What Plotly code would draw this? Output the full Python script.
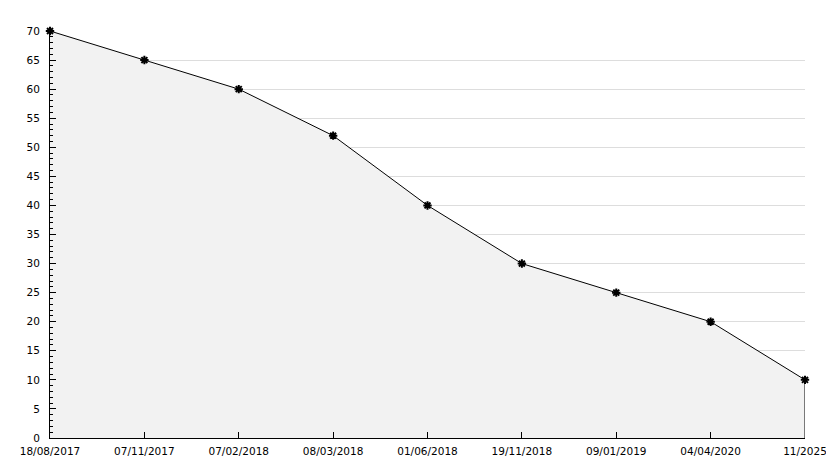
import plotly.graph_objects as go

dates = ["18/08/2017", "07/11/2017", "07/02/2018", "08/03/2018", "01/06/2018",
         "19/11/2018", "09/01/2019", "04/04/2020", "11/2025"]
values = [70, 65, 60, 52, 40, 30, 25, 20, 10]

fig = go.Figure()
fig.add_trace(go.Scatter(
    x=dates, y=values,
    mode="lines+markers",
    fill="tozeroy",
    fillcolor="#f2f2f2",
    line=dict(color="black", width=1),
    marker=dict(symbol="asterisk-open", size=7, color="black",
                line=dict(color="black", width=2)),
    cliponaxis=False,
    hoverinfo="x+y",
))
# closing edge of the filled area at the last date
fig.add_trace(go.Scatter(
    x=[dates[-1], dates[-1]], y=[0, values[-1]],
    mode="lines", line=dict(color="black", width=1),
    cliponaxis=False,
    hoverinfo="skip",
))

# page body has an 8px margin, so the figure is sized/padded to land the plot
# area where the reference has it
fig.update_layout(
    width=826, height=460,
    margin=dict(l=42, r=29, t=23, b=30),
    paper_bgcolor="white",
    plot_bgcolor="white",
    showlegend=False,
    font=dict(family="DejaVu Sans", size=10.5, color="black"),
)
fig.update_xaxes(
    type="category",
    range=[0, len(dates) - 1],
    automargin=False,
    showgrid=False,
    showline=True, linecolor="black", linewidth=1,
    ticks="inside", ticklen=6, tickcolor="black",
    ticklabelstandoff=3,
    zeroline=False,
)
fig.update_yaxes(
    range=[0, 70],
    dtick=5,
    automargin=False,
    showgrid=True, gridcolor="#dddddd", gridwidth=1,
    showline=True, linecolor="black", linewidth=1,
    ticks="inside", ticklen=6, tickcolor="black",
    ticklabelstandoff=7,
    minor=dict(dtick=1, ticks="inside", ticklen=3, tickcolor="black", showgrid=False),
    zeroline=False,
)

fig.write_html("out.html")
